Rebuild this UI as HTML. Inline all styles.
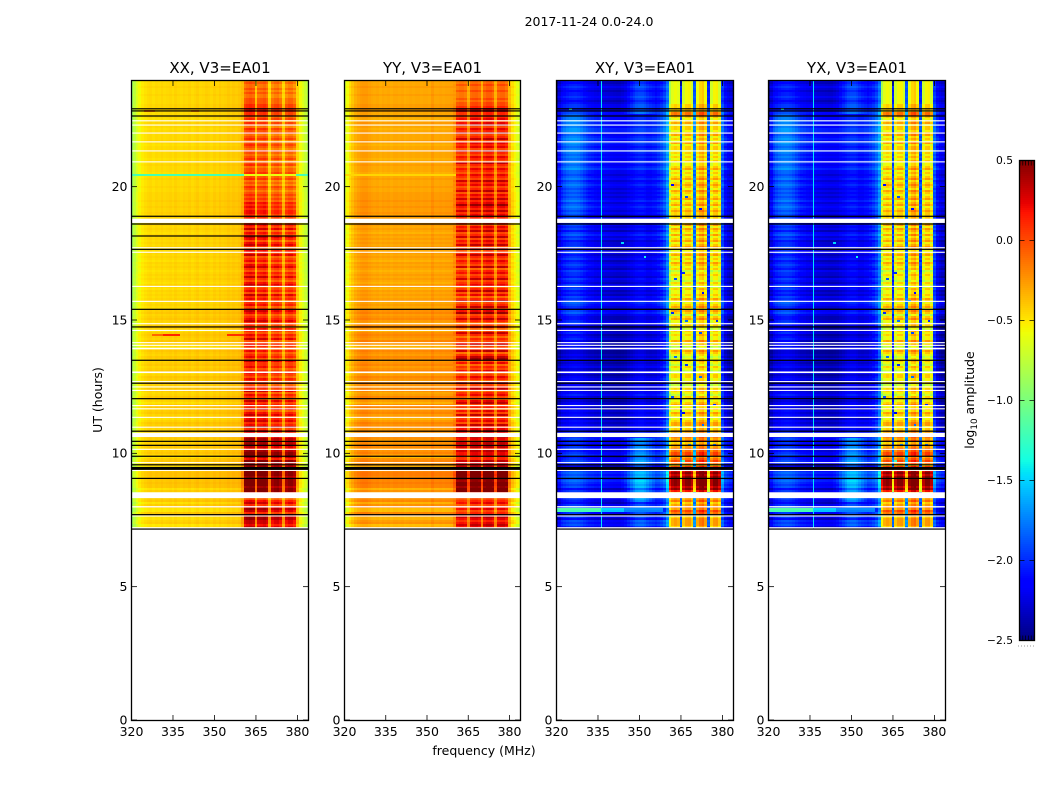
<!DOCTYPE html>
<html lang="en">
<head>
<meta charset="utf-8">
<title>2017-11-24 0.0-24.0</title>
<style>
html,body{margin:0;padding:0;background:#fff;width:1050px;height:800px;overflow:hidden}
svg{display:block}
text{font-family:"DejaVu Sans","Liberation Sans",sans-serif;fill:#000}
</style>
</head>
<body>
<svg id="figure" xmlns="http://www.w3.org/2000/svg" width="1050" height="800" viewBox="0 0 1050 800">
  <rect x="0" y="0" width="1050" height="800" fill="#fff"/>
  <text x="589" y="26" font-size="12.5" text-anchor="middle">2017-11-24 0.0-24.0</text>
  <text x="0" y="0" font-size="12.5" text-anchor="middle" transform="translate(102,400) rotate(-90)">UT (hours)</text>
  <text x="484" y="755" font-size="12.5" text-anchor="middle">frequency (MHz)</text>
  <text x="0" y="0" font-size="12.5" text-anchor="middle" transform="translate(974,400) rotate(-90)">log<tspan font-size="8.8" dy="3">10</tspan><tspan dy="-3"> amplitude</tspan></text>
  <g id="panels"></g>
  <g id="colorbar"></g>
</svg>
<script>
/* ---------- axis ticks ---------- */
const freqTicks = [320, 335, 350, 365, 380];
const utTicks = [0, 5, 10, 15, 20];
const colorTicks = [-2.5, -2.0, -1.5, -1.0, -0.5, 0.0, 0.5];
const colorTickLabels = ["\u22122.5", "\u22122.0", "\u22121.5", "\u22121.0", "\u22120.5", "0.0", "0.5"];

/* ---------- baseline spectrum per channel (log10 amplitude), 320..384 MHz ---------- */
const xxProfile = [-0.85,-0.72,-0.6,-0.52,-0.47,-0.44,-0.42,-0.41,-0.43,-0.41,
 -0.42,-0.4,-0.42,-0.41,-0.4,-0.42,-0.39,-0.41,-0.42,-0.4,
 -0.41,-0.39,-0.42,-0.4,-0.38,-0.41,-0.4,-0.38,-0.39,-0.41,
 -0.38,-0.4,-0.37,-0.39,-0.38,-0.36,-0.38,-0.36,-0.37,-0.35,
 -0.34,-0.2,-0.15,-0.12,-0.15,-0.42,-0.2,-0.18,-0.15,-0.22,
 -0.48,-0.28,-0.22,-0.2,-0.28,-0.46,-0.28,-0.22,-0.22,-0.3,
 -0.42,-0.52,-0.6,-0.68,-0.78];
const yyProfile = [-0.72,-0.58,-0.48,-0.4,-0.33,-0.29,-0.27,-0.26,-0.26,-0.28,
 -0.3,-0.31,-0.3,-0.32,-0.3,-0.31,-0.3,-0.32,-0.3,-0.3,
 -0.31,-0.3,-0.32,-0.31,-0.3,-0.31,-0.3,-0.3,-0.31,-0.3,
 -0.3,-0.31,-0.26,-0.3,-0.3,-0.29,-0.3,-0.29,-0.29,-0.28,
 -0.27,-0.2,-0.17,-0.17,-0.2,-0.35,-0.15,-0.13,-0.12,-0.16,
 -0.36,-0.15,-0.1,-0.1,-0.15,-0.36,-0.15,-0.12,-0.12,-0.18,
 -0.38,-0.48,-0.56,-0.64,-0.74];
const crossProfile = [-2.45,-2.3,-2.22,-2.2,-2.18,-2.15,-2.14,-2.13,-2.14,-2.15,
 -2.18,-2.2,-2.22,-2.22,-2.24,-2.25,-2.22,-2.26,-2.27,-2.28,
 -2.28,-2.29,-2.3,-2.3,-2.3,-2.3,-2.28,-2.26,-2.24,-2.22,
 -2.2,-2.2,-2.22,-2.25,-2.24,-2.2,-2.18,-2.12,-2.05,-1.95,
 -1.8,-1.0,-0.78,-0.72,-0.78,-2.1,-0.85,-0.72,-0.7,-0.85,
 -1.95,-0.75,-0.6,-0.55,-0.72,-2.1,-0.85,-0.7,-0.68,-0.85,
 -2.0,-2.2,-2.3,-2.35,-2.4];
const bandGain = [0,0,0,0,0,0,0,0,0,0, 0,0,0,0,0,0,0,0,0,0, 0,0,0,0,0,0,0,0,0,0, 0,0,0,0,0,0,0,0,0,0,
 0.2,1,1,1,1,0.5,1,1,1,1, 0.5,1,1,1,1,0.5,1,1,1,1, 0.2,0,0,0,0];
const crossLeftMask = [0,0.3,0.6,0.85,1,1,1,0.95,0.9,0.75, 0.6,0.45,0.35,0.25,0.2,0.15,0.1,0.1,0.05,0.05,
 0,0,0,0,0,0,0,0,0,0, 0,0,0,0,0,0,0,0,0,0, 0,0,0,0,0,0,0,0,0,0, 0,0,0,0,0,0,0,0,0,0, 0,0,0,0,0];
const crossMidMask = [0,0,0,0,0,0,0,0,0,0, 0,0,0,0,0,0,0,0,0,0, 0,0,0,0,0.1,0.25,0.5,0.7,0.85,1,
 1,1,0.95,0.85,0.65,0.4,0.2,0.1,0.05,0, 0,0,0,0,0,0,0,0,0,0, 0,0,0,0,0,0,0,0,0,0, 0,0.2,0.3,0.3,0.2];

/* ---------- row activity, 24h downward, one row per 0.075 h ---------- */
const xxBandRows = [1,2,1,1,2,1,2,1,1,2,2,2,3,3,
 4,4,3,3,
 2,3,1,3,2,1,3,2,3,1, 2,3,1,2,3,2,1,3,2,1, 2,3,1,2,3,1,2,2,3,1, 2,3,1,2,1,3,2,1,2,3, 2,3,2,4,3,4,3,4,4,3,
 3,3,3,3,
 4,3,5,2,4,3,5,4,2,4, 5,3,2,4,3,5,2,3,4,2, 4,5,3,2,4,3,5,3,2,4, 5,2,3,4,2,5,3,4,2,3,
 4,2,3,5,4,2,3,4,5,3, 3,2,4,3,2,4,3,5,2,3, 4,3,2,4,2,3,4,2,5,3, 3,4,2,3,4,3,2,4,3,3,
 2,4,3,5,2,4,3,2,5,3, 4,3,5,2,4,5,3,4,5,3, 4,6,3,5,
 4,4,5,6,5,6,6,5,4,6,7,7,6,4,7,7,5,6,7,
 7,7,7,6,7,7,7,7,6,7,7,
 4,4,4,
 2,4,5,3,5,6,5,3,5,6,6,5,5,4,5];
const yyBandRows = [1,1,2,1,1,2,1,1,1,2,1,2,2,3,
 5,5,3,3,
 3,4,2,4,5,2,4,3,5,2, 3,5,2,4,3,4,2,5,3,2, 4,3,2,5,3,2,4,3,2,4, 3,2,5,3,4,2,3,5,2,4, 3,5,3,4,6,4,3,5,3,4,
 3,3,3,3,
 2,4,3,5,2,3,5,2,4,3, 5,2,4,2,3,5,3,2,4,3, 2,5,1,3,4,2,3,5,2,3, 4,1,3,5,2,4,1,3,5,2,
 3,5,2,4,6,2,3,5,3,1, 2,4,1,2,5,3,1,3,2,4, 5,2,3,5,1,3,5,6,2,4, 1,3,2,4,1,2,4,3,1,5,
 2,3,5,1,3,4,2,1,4,5, 2,3,1,4,2,5,2,3,4,2, 5,3,4,6,
 4,5,5,4,3,5,4,5,3,5,4,4,3,3,5,5,4,5,6,
 7,7,8,7,7,6,7,7,6,7,7,
 3,3,3,
 2,3,4,2,3,4,2,3,4,5,4,3,4,5,4];
const parBaseRows = [0,0,0,1,0,0,0,1,0,0,0,0,1,1,
 1,1,0,0,
 0,-1,0,1,0,0,-1,0,1,0, 0,0,1,0,-1,0,0,1,0,0, 0,-1,0,0,1,0,0,0,-1,0, 0,1,0,0,0,1,0,0,1,1, 1,1,2,1,1,2,1,1,2,1,
 1,1,1,1,
 1,0,1,0,-1,1,0,1,0,1, 0,1,-1,0,1,0,1,0,-1,1, 0,1,0,-1,0,1,0,1,0,-1, 1,0,-1,1,0,1,0,1,2,0,
 1,0,1,2,3,1,2,3,1,0, 2,3,1,-1,2,3,2,1,3,2, 1,-1,2,3,2,1,3,2,1,2, 3,1,2,3,0,1,3,2,1,3,
 2,1,3,2,0,1,3,2,1,-1, 2,3,1,2,3,1,2,-1,1,3, 2,3,1,2,
 2,2,3,2,1,2,2,3,1,2,3,1,-2,2,3,2,0,-1,-1,
 3,4,4,3,4,3,4,3,3,-1,2,
 0,0,0,
 2,3,-1,2,3,-2,-2,3,2,-1,-1,1,2,-2,-1];
const crossBandRows = [1,1,1,1,1,1,1,1,1,1,1,1,2,2,
 2,2,4,4,
 2,1,2,3,1,2,2,1,2,3, 1,2,1,3,1,2,2,1,2,1, 2,1,2,1,1,2,3,1,2,1, 2,3,1,2,3,2,1,3,2,1, 2,3,1,2,3,1,2,3,2,2,
 2,2,2,2,
 3,1,3,2,1,3,1,2,3,1, 2,3,2,1,2,3,1,2,1,3, 2,1,2,0,1,2,1,1,0,2, 1,0,2,1,1,2,1,3,2,1,
 2,3,1,3,2,0,2,3,1,1, 2,1,0,2,1,2,1,1,3,1, 2,0,1,3,2,1,0,1,2,1, 0,2,1,0,1,2,2,1,1,2,
 0,1,2,2,1,0,2,1,1,2, 3,1,2,1,3,2,1,1,2,3, 3,1,2,3,
 3,4,4,3,4,2,3,3,4,4,5,5,3,4,5,4,2,5,4,
 7,8,7,8,8,8,8,8,7,8,6,
 2,2,2,
 3,4,2,3,4,3,5,4,3,2,3,3,3,3,2];
const crossBaseRows = [0,-1,0,1,0,-1,0,0,1,0,-1,0,1,1,
 0,1,2,1,
 2,2,3,2,3,2,3,3,2,1, 2,3,2,3,2,1,2,3,2,1, 2,1,2,2,1,2,3,1,1,0, 1,2,0,1,2,1,0,1,0,1, 0,1,2,0,1,2,1,0,1,0,
 0,0,0,0,
 1,0,1,-1,1,2,0,1,-1,0, 0,1,-1,0,1,-1,0,1,-1,0, 1,0,-1,1,0,0,-1,1,0,-1, 1,0,1,-1,0,-1,1,0,1,2,
 1,0,-1,1,2,0,-1,-1,0,1, -1,-2,-2,-1,0,-2,-1,0,-2,-1, -2,-1,0,-2,-2,-1,-2,0,-1,-2, -1,0,-2,-1,0,-2,-1,0,-1,-2,
 -1,0,-2,-1,0,1,-1,0,-2,-1, 0,-1,-2,0,-1,0,-1,-2,0,-1, 0,-1,0,1,
 1,0,1,2,0,1,-1,1,2,0,1,2,0,1,2,1,0,-1,-1,
 2,3,2,3,2,3,2,1,2,-1,1,
 0,0,0,
 1,0,-1,1,2,-1,-1,1,0,1,-1,2,1,2,0];

/* ---------- cross-hand broad features by time segment ---------- */
const crossSegmentStartUT = [24, 22.75, 18.8, 14, 10.6, 9, 8.2];
const crossLeftLevels = [0.1, 0.25, 0.16, 0.05, 0.1, 0.12, 0.12];
const crossMidLevels = [0.28, 0.05, 0.05, 0.1, 0.42, 0.5, 0.25];

/* ---------- isolated features: [UT, first channel, last channel, log10 amplitude] ---------- */
const xxFlares = [[14.475,8,11,-0.1],[14.475,12,17,0.12],[14.475,35,40,0.08],[22.875,5,8,-0.15],[22.875,22,24,-0.2],[20.475,0,40,-1.2],[20.475,41,59,-0.6],[20.475,60,64,-1.2]];
const yyFlares = [[20.475,0,40,-0.45]];
const crossFlares = [[7.95,0,16,-1.15],[7.95,17,24,-1.5],[7.95,25,38,-1.7],[7.875,0,16,-1.2],[7.875,17,24,-1.55],[7.875,25,38,-1.75],
 [17.9,24,24,-1.5],[17.4,32,32,-1.4],[16.8,46,46,-2.0],[16.6,43,43,-1.9],[16.05,53,53,-2.1],[15.75,51,51,-1.7],[15.3,42,42,-2.0],[15.0,47,47,-1.8],
 [14.55,52,52,-1.9],[15.0,58,58,-2.0],[13.65,43,43,-1.8],[13.35,47,47,-2.0],[12.9,52,52,-1.8],[12.15,42,42,-1.9],[11.85,57,57,-2.0],[11.55,46,46,-2.2],
 [11.1,53,53,-1.8],[22.95,5,5,-1.3],[20.1,42,42,-2.1],[19.65,47,47,-1.9],[19.2,52,52,-2.1],[10.35,48,48,-1.7],[10.35,57,57,-1.8],[9.75,46,46,-1.2]];

/* ---------- interference column in the cross hands (MHz) ---------- */
const crossRfiFreqs = [336.1];

/* ---------- flagged times (UT hours) ---------- */
const whiteLinesUT = [22.47,22.31,22.01,21.68,21.34,20.93,17.71,17.54,16.26,15.70,14.86,14.61,14.15,14.05,12.69,12.49,12.36,11.79,11.67,11.35,10.98,10.15,9.65,9.36,7.21];
const whiteBandStarts = [18.80,13.96,13.07,10.77,8.54,8.02,7.67];
const whiteBandEnds = [18.64,13.90,13.01,10.61,8.32,7.97,7.63];
const blackLinesUT = [22.92,22.84,22.65,18.89,18.60,17.65,15.40,14.74,13.49,12.63,12.05,10.83,10.45,10.30,9.89,9.57,9.06,7.70,7.16];
const blackBandStarts = [9.49];
const blackBandEnds = [9.38];
const xxExtraBlackUT = [18.15];

/* ---------- configuration ---------- */
const panelTitles = ["XX, V3=EA01", "YY, V3=EA01", "XY, V3=EA01", "YX, V3=EA01"];
const panelKeys = ["xx", "yy", "xy", "yx"];
const panelLefts = [131.5, 344.5, 556.5, 768.5];
const panelWidths = [177, 176, 177, 177];
const axisTop = 80.5, axisBottom = 720.5;
const rowHours = 0.075, rowCount = 224;
const NS = "http://www.w3.org/2000/svg";

function xAxis(p, f) { return panelLefts[p] + (f - 320) * panelWidths[p] / 64; }
function yAxis(ut) { return axisBottom - 0.5 - ut * 640 / 24; }
function colorAxis(v) { return 640 - (v + 2.5) * 160; }

function ramp(t, a, b) { return Math.max(0, Math.min(1, (t - a) / (b - a))); }
function jet(v) {
  const t = Math.max(0, Math.min(1, (v + 2.5) / 3));
  const r = t < 0.89 ? ramp(t, 0.35, 0.66) : 1 - 0.5 * ramp(t, 0.89, 1);
  const g = t < 0.5 ? ramp(t, 0.125, 0.375) : 1 - ramp(t, 0.64, 0.91);
  const b = t < 0.11 ? 0.5 + 0.5 * ramp(t, 0, 0.11) : 1 - ramp(t, 0.34, 0.65);
  return "rgb(" + Math.round(r * 255) + "," + Math.round(g * 255) + "," + Math.round(b * 255) + ")";
}

function make(tag, parent, props) {
  const el = document.createElementNS(NS, tag);
  for (const k in props) el.setAttribute(k, props[k]);
  parent.appendChild(el);
  return el;
}

function segmentIndex(ut) {
  let s = 0;
  for (let i = 0; i < crossSegmentStartUT.length; i++) if (ut <= crossSegmentStartUT[i]) s = i;
  return s;
}

function cellValue(key, c, r) {
  const gain = bandGain[c];
  const ut = 24 - r * rowHours;
  if (key === "xx") return xxProfile[c] - 0.05 * (1 - gain) - 0.08 * gain + gain * (xxBandRows[r] || 0) * 0.11 + (1 - gain) * (parBaseRows[r] || 0) * 0.02;
  if (key === "yy") return yyProfile[c] - 0.08 * gain + gain * (yyBandRows[r] || 0) * 0.11 + (1 - gain) * (parBaseRows[r] || 0) * 0.035;
  const s = segmentIndex(ut);
  const n = crossBandRows[r] || 0;
  const notchBoost = (gain === 0.5 && n >= 6) ? 0.9 : 0;
  return crossProfile[c] + gain * n * 0.15 + notchBoost +
    (1 - gain) * ((crossBaseRows[r] || 0) * 0.08 + crossLeftLevels[s] * crossLeftMask[c] + crossMidLevels[s] * crossMidMask[c]);
}

function flareTable(key) {
  const list = key === "xx" ? xxFlares : key === "yy" ? yyFlares : crossFlares;
  const map = {};
  list.forEach(function (f) {
    const r = Math.round((24 - f[0]) / rowHours);
    for (let c = f[1]; c <= f[2]; c++) map[r + ":" + c] = f[3];
  });
  return map;
}

const panelsRoot = document.getElementById("panels");
const defs = make("defs", panelsRoot, {});

panelKeys.forEach(function (key, p) {
  const left = panelLefts[p], width = panelWidths[p];

  const panel = make("g", panelsRoot, {});
  
  

  const clip = make("clipPath", defs, { id: "clip-" + key });
  make("rect", clip, { x: left, y: axisTop, width: width, height: axisBottom - axisTop });

  const cells = make("g", panel, { "clip-path": "url(#clip-" + key + ")", "shape-rendering": "crispEdges" });
  
  

  const flares = flareTable(key);
  for (let r = 0; r < rowCount; r++) {
    const yTop = yAxis(24 - r * rowHours);
    const yBot = yAxis(24 - (r + 1) * rowHours);
    for (let c = 0; c <= 64; c++) {
      const x0 = Math.round(xAxis(p, 320 + c - 0.5));
      const x1 = Math.round(xAxis(p, 320 + c + 0.5));
      const f = flares[r + ":" + c];
      const v = f !== undefined ? f : cellValue(key, c, r);
      const cell = document.createElementNS(NS, "rect");
      cell.setAttribute("x", x0);
      cell.setAttribute("y", yTop);
      cell.setAttribute("width", x1 - x0);
      cell.setAttribute("height", yBot - yTop);
      cell.setAttribute("fill", jet(v));
      
      
      cells.appendChild(cell);
    }
  }

  const overlay = make("g", panel, { "clip-path": "url(#clip-" + key + ")" });
  
  

  if (key === "xy" || key === "yx") {
    crossRfiFreqs.forEach(function (f) {
      const line = make("rect", overlay, { x: Math.round(xAxis(p, f)), y: yAxis(24), width: 1, height: yAxis(7.16) - yAxis(24), fill: jet(-1.45) });
      
      
    });
  }

  whiteLinesUT.forEach(function (ut) {
    const line = make("rect", overlay, { x: left, y: yAxis(ut) - 0.55, width: width, height: 1.1, fill: "#fff" });
    
    
  });
  whiteBandStarts.forEach(function (ut, i) {
    const band = make("rect", overlay, { x: left, y: yAxis(ut), width: width, height: yAxis(whiteBandEnds[i]) - yAxis(ut), fill: "#fff" });
    
    
  });
  const blacks = key === "xx" ? blackLinesUT.concat(xxExtraBlackUT) : blackLinesUT;
  blacks.forEach(function (ut) {
    const line = make("rect", overlay, { x: left, y: yAxis(ut) - 0.6, width: width, height: 1.2, fill: "#000" });
    
    
  });
  blackBandStarts.forEach(function (ut, i) {
    const band = make("rect", overlay, { x: left, y: yAxis(ut), width: width, height: yAxis(blackBandEnds[i]) - yAxis(ut), fill: "#000" });
    
    
  });

  /* ticks */
  freqTicks.forEach(function (f) {
    const x = xAxis(p, f);
    const t1 = make("line", panel, { x1: x, x2: x, y1: axisBottom, y2: axisBottom - 5.5, stroke: "#000", "stroke-width": 0.8 });
    
    
    const t2 = make("line", panel, { x1: x, x2: x, y1: axisTop, y2: axisTop + 5.5, stroke: "#000", "stroke-width": 0.8 });
    
    
    const label = make("text", panel, { x: x, y: 736, "font-size": 12.5, "text-anchor": "middle" });
    label.textContent = String(f);
    
    
  });
  utTicks.forEach(function (ut) {
    const y = yAxis(ut);
    const t1 = make("line", panel, { x1: left, x2: left + 5.5, y1: y, y2: y, stroke: "#000", "stroke-width": 0.8 });
    
    
    const t2 = make("line", panel, { x1: left + width, x2: left + width - 5.5, y1: y, y2: y, stroke: "#000", "stroke-width": 0.8 });
    
    
    const label = make("text", panel, { x: left - 4, y: y + 4.3, "font-size": 12.5, "text-anchor": "end" });
    label.textContent = String(ut);
    
    
  });

  const frame = make("rect", panel, { x: left, y: axisTop, width: width, height: axisBottom - axisTop, fill: "none", stroke: "#000", "stroke-width": 1.3 });
  
  

  const title = make("text", panel, { x: left + width / 2, y: 73, "font-size": 15, "text-anchor": "middle" });
  title.textContent = panelTitles[p];
  
  
});

/* ---------- colorbar ---------- */
const cbRoot = document.getElementById("colorbar");
const cbLeft = 1019.5, cbWidth = 15;
const cbSteps = 240;
const cbGrad = make("g", cbRoot, { "shape-rendering": "crispEdges" });


for (let i = 0; i < cbSteps; i++) {
  const v = -2.5 + (i + 0.5) * 3 / cbSteps;
  const y0 = colorAxis(-2.5 + (i + 1) * 3 / cbSteps);
  const swatch = make("rect", cbGrad, { x: cbLeft, y: y0, width: cbWidth, height: 2.1, fill: jet(v) });
  
  
}
colorTicks.forEach(function (v, i) {
  const y = colorAxis(v) + 0.5;
  if (i > 0 && i < colorTicks.length - 1) {
    const a = make("line", cbRoot, { x1: cbLeft, x2: cbLeft + 5, y1: y, y2: y, stroke: "#000", "stroke-width": 0.7 });
    
    
    const b = make("line", cbRoot, { x1: cbLeft + cbWidth, x2: cbLeft + cbWidth - 5, y1: y, y2: y, stroke: "#000", "stroke-width": 0.7 });
    
    
  }
  const label = make("text", cbRoot, { x: 1013, y: y + 3.4, "font-size": 10.7, "text-anchor": "end" });
  label.textContent = colorTickLabels[i];
  
  
});
for (let i = 0; i < 6; i++) {
  const x = cbLeft + 0.5 + i * 2.8;
  const top = make("line", cbRoot, { x1: x, x2: x, y1: 160.5, y2: 165.5, stroke: "#000", "stroke-width": 0.7 });
  
  
  const bottom = make("line", cbRoot, { x1: x, x2: x, y1: 640.5, y2: 635.5, stroke: "#000", "stroke-width": 0.7 });
  
  
  const dot = make("rect", cbRoot, { x: cbLeft - 1.5 + i * 3, y: 645.5, width: 1, height: 1, fill: "#999" });
  
  
}
const cbFrame = make("rect", cbRoot, { x: cbLeft, y: 160.5, width: cbWidth, height: 480, fill: "none", stroke: "#000", "stroke-width": 1.3 });


</script>
</body>
</html>
